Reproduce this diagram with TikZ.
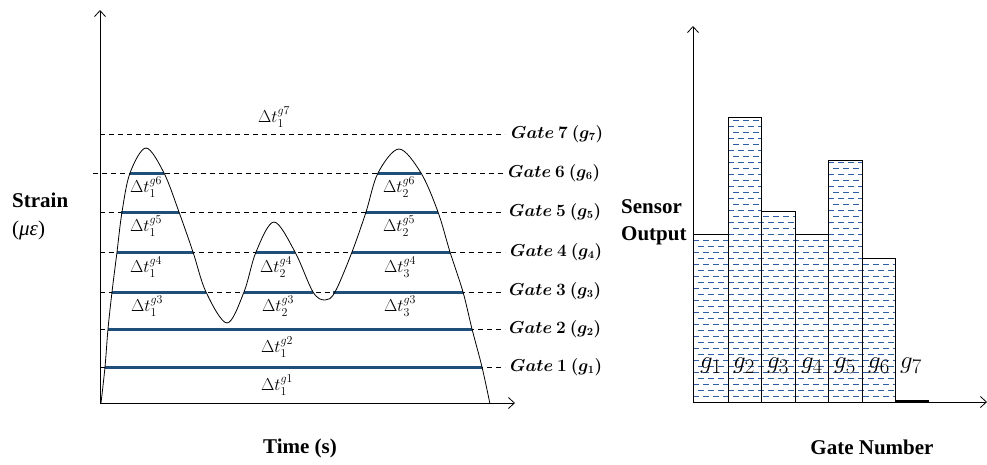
\documentclass[tikz,border=0pt]{standalone}
\usepackage{fontspec}
\setmainfont{Liberation Serif}
\usepackage{amsmath,bm}
\usetikzlibrary{arrows.meta}
\definecolor{barblue}{HTML}{1F4E79}
\definecolor{dashblue}{HTML}{2E5FA3}
\begin{document}
\begin{tikzpicture}[x=1pt,y=-1pt,
  axis/.style={line width=0.8pt,-{Straight Barb[length=6pt,width=11pt]}},
  gateline/.style={dash pattern=on 5pt off 4pt, line width=0.7pt},
  gatebar/.style={line width=3pt, draw=barblue},
  gatelabel/.style={anchor=west, inner sep=0pt, font=\fontsize{16}{19}\selectfont},
  dtlabel/.style={inner sep=0pt, font=\fontsize{17}{20}\selectfont},
  biglabel/.style={inner sep=0pt, font=\fontsize{21}{25}\selectfont\bfseries},
  glabel/.style={inner sep=0pt, font=\fontsize{28}{32}\selectfont},
  barbox/.style={draw, line width=0.8pt},
  fillrow/.style={draw=dashblue, line width=1pt, dash pattern=on 6pt off 4pt},
]
\useasboundingbox (0,0) rectangle (987,464);

% ---------- left chart axes ----------
\coordinate (lo) at (100,403);
\coordinate (ltop) at (100,10);
\coordinate (lright) at (515,403);
\draw[axis] (lo) -- (ltop);
\draw[axis] (lo) -- (lright);

% gate dashed lines
\coordinate (g7a) at (100,134); \coordinate (g7b) at (505,134);
\coordinate (g6a) at (93,173);  \coordinate (g6b) at (503,173);
\coordinate (g5a) at (100,212); \coordinate (g5b) at (503,212);
\coordinate (g4a) at (100,252); \coordinate (g4b) at (505,252);
\coordinate (g3a) at (100,292); \coordinate (g3b) at (503,292);
\coordinate (g2a) at (100,329); \coordinate (g2b) at (505,329);
\coordinate (g1a) at (100,367); \coordinate (g1b) at (505,367);
\foreach \g in {1,...,7}{\draw[gateline] (g\g a) -- (g\g b);}

% gate labels
\node[gatelabel] (L7) at (511,134) {$\bm{Gate\ 7\ (g_7)}$};
\node[gatelabel] (L6) at (508,173) {$\bm{Gate\ 6\ (g_6)}$};
\node[gatelabel] (L5) at (509,212) {$\bm{Gate\ 5\ (g_5)}$};
\node[gatelabel] (L4) at (510,252) {$\bm{Gate\ 4\ (g_4)}$};
\node[gatelabel] (L3) at (509,291) {$\bm{Gate\ 3\ (g_3)}$};
\node[gatelabel] (L2) at (509,329) {$\bm{Gate\ 2\ (g_2)}$};
\node[gatelabel] (L1) at (510,367) {$\bm{Gate\ 1\ (g_1)}$};

% blue time bars
\draw[gatebar] (105,367) -- (482,367);
\draw[gatebar] (108,329) -- (472,329);
\draw[gatebar] (112,292) -- (206,292);
\draw[gatebar] (244,292) -- (313,292);
\draw[gatebar] (333,292) -- (463,292);
\draw[gatebar] (117,252) -- (193,252);
\draw[gatebar] (256,252) -- (295,252);
\draw[gatebar] (352,252) -- (450,252);
\draw[gatebar] (121,212) -- (179,212);
\draw[gatebar] (366,212) -- (438,212);
\draw[gatebar] (130,173) -- (164,173);
\draw[gatebar] (378,173) -- (421,173);

% strain curve
\draw[line width=0.8pt] plot[smooth, tension=0.55] coordinates {
  (101,403) (105,367) (108,329) (112,292) (117,252) (122,212) (130,173)
  (146,148) (164,173) (179,212) (193,252) (206,292) (227,323)
  (244,292) (256,252) (274,222) (295,252) (313,292) (325,300)
  (335,292) (352,252) (366,212) (378,173) (399,149)
  (421,173) (438,212) (450,252) (463,292) (472,329) (482,367) (490,404)};

% delta-t labels
\node[dtlabel] (d7) at (274,117) {$\Delta t_1^{g7}$};
\node[dtlabel] (d61) at (146,187) {$\Delta t_1^{g6}$};
\node[dtlabel] (d62) at (399,187) {$\Delta t_2^{g6}$};
\node[dtlabel] (d51) at (146,226) {$\Delta t_1^{g5}$};
\node[dtlabel] (d52) at (399,226) {$\Delta t_2^{g5}$};
\node[dtlabel] (d41) at (146,267) {$\Delta t_1^{g4}$};
\node[dtlabel] (d42) at (276,267) {$\Delta t_2^{g4}$};
\node[dtlabel] (d43) at (400,267) {$\Delta t_3^{g4}$};
\node[dtlabel] (d31) at (147,306) {$\Delta t_1^{g3}$};
\node[dtlabel] (d32) at (278,306) {$\Delta t_2^{g3}$};
\node[dtlabel] (d33) at (400,306) {$\Delta t_3^{g3}$};
\node[dtlabel] (d2) at (277,347) {$\Delta t_1^{g2}$};
\node[dtlabel] (d1) at (277,385) {$\Delta t_1^{g1}$};

% axis titles
\node[biglabel, anchor=west] (strain) at (12,200) {Strain};
\node[inner sep=0pt, anchor=west, font=\fontsize{21}{25}\selectfont] (ue) at (12,230) {(\textit{με})};
\node[biglabel] (time) at (300,448) {Time (s)};

% ---------- right chart ----------
\coordinate (ro) at (693,402);
\coordinate (rtop) at (693,26);
\coordinate (rright) at (987,402);

% bars with dashed fill
\foreach \xa/\xb/\yt in {693/728/234, 728/761/117, 761/795/211, 795/828/234, 828/862/160, 862/895/258}{
  \begin{scope}
    \clip (\xa,\yt) rectangle (\xb,402);
    \foreach \yy in {396.5,384.5,...,100}{
      \draw[fillrow] (693,\yy) -- (900,\yy);
      \draw[fillrow, dash phase=5pt] (693,\yy-6) -- (900,\yy-6);
    }
  \end{scope}
  \draw[barbox] (\xa,402) rectangle (\xb,\yt);
}
\draw[line width=2.2pt] (895,401) -- (929,401);

\draw[axis] (ro) -- (rtop);
\draw[axis] (ro) -- (rright);

% g labels
\node[glabel] (r1) at (711,366) {$g_1$};
\node[glabel] (r2) at (744,366) {$g_2$};
\node[glabel] (r3) at (778,366) {$g_3$};
\node[glabel] (r4) at (812,366) {$g_4$};
\node[glabel] (r5) at (845,366) {$g_5$};
\node[glabel] (r6) at (879,366) {$g_6$};
\node[glabel] (r7) at (911,366) {$g_7$};

\node[biglabel, anchor=west] (sensor) at (621,207) {Sensor};
\node[biglabel, anchor=west] (output) at (621,236) {Output};
\node[biglabel] (gatenum) at (872,447) {Gate Number};
\end{tikzpicture}
\end{document}
